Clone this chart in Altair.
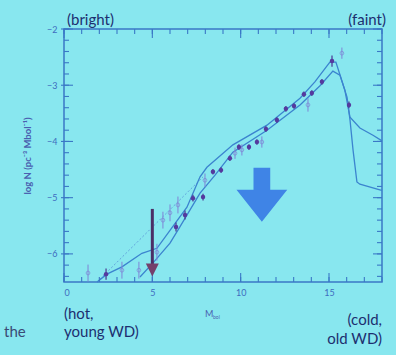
import altair as alt
import pandas as pd

# ---- data ----
# filled (dark) points
fill_x = [15.17, 16.13, 14.6, 14.03, 13.58, 13.02, 12.56, 12.05, 11.43, 10.92, 10.47, 9.9, 9.39, 8.89, 8.43, 7.87, 7.3, 6.85, 6.34, 2.38]
fill_y = [-2.57, -3.35, -2.94, -3.14, -3.16, -3.37, -3.42, -3.62, -3.78, -4.01, -4.1, -4.1, -4.3, -4.51, -4.54, -4.99, -5.01, -5.31, -5.52, -6.36]
fill_err = [0.1, 0.06, 0.05, 0.05, 0.05, 0.05, 0.05, 0.05, 0.05, 0.05, 0.05, 0.05, 0.05, 0.05, 0.05, 0.06, 0.06, 0.08, 0.08, 0.1]

# open (light) points
open_x = [15.73, 13.81, 11.2, 10.07, 9.68, 7.98, 6.45, 6.0, 5.6, 5.26, 4.24, 3.28, 1.36]
open_y = [-2.43, -3.35, -4.01, -4.15, -4.21, -4.69, -5.13, -5.27, -5.4, -5.97, -6.29, -6.29, -6.34]
open_err = [0.1, 0.12, 0.1, 0.1, 0.1, 0.12, 0.15, 0.15, 0.15, 0.15, 0.15, 0.15, 0.15]

# model curves
c1_x = [1.87, 2.43, 3.28, 4.41, 5.26, 6.0, 6.96, 7.7, 8.09, 9.56, 11.49, 13.36, 14.2, 15.05, 15.39, 15.9, 16.19, 16.75, 17.49, 18.0]
c1_y = [-6.5, -6.36, -6.23, -5.99, -5.9, -5.58, -5.17, -4.63, -4.46, -4.06, -3.71, -3.23, -2.94, -2.59, -2.59, -3.09, -3.57, -3.76, -3.89, -3.99]

c2_x = [4.3, 5.04, 6.0, 6.56, 7.7, 8.55, 9.56, 11.49, 13.36, 14.49, 15.22, 15.62, 16.02, 16.19, 16.36, 16.58, 16.75, 17.88, 18.0]
c2_y = [-6.41, -6.16, -5.81, -5.52, -4.92, -4.6, -4.19, -3.8, -3.35, -3.01, -2.75, -2.82, -3.21, -3.62, -4.15, -4.72, -4.76, -4.86, -4.87]

c3_x = [1.87, 7.87]
c3_y = [-6.5, -4.63]

# annotation arrows
big_arrow_x = [11.2]
big_arrow_y = [-4.95]
mark_arrow_x = [5]
mark_arrow_top = [-5.2]
mark_arrow_base = [-6.18]
mark_arrow_head = [-6.285]

# axis ticks
x_major = [0, 5, 10, 15]
x_minor = list(range(0, 19))
y_major = [-6, -5, -4, -3, -2]
y_minor = [-6.4, -6.2, -6.0, -5.8, -5.6, -5.4, -5.2, -5.0, -4.8, -4.6, -4.4, -4.2, -4.0,
           -3.8, -3.6, -3.4, -3.2, -3.0, -2.8, -2.6, -2.4, -2.2, -2.0]

W, H = 318, 253
BG = "#88e7ef"
AX = "#3a78c6"
CURVE = "#3b84cf"
LBL = "#3e6cc0"
TXT = "#1d2f6f"

xs = alt.Scale(domain=[0, 18], nice=False, zero=False)
ys = alt.Scale(domain=[-6.5, -2], nice=False, zero=False)

def line_df(xv, yv):
    return pd.DataFrame({"x": xv, "y": yv, "o": list(range(len(xv)))})

c1 = alt.Chart(line_df(c1_x, c1_y)).mark_line(color=CURVE, strokeWidth=1.3).encode(
    x=alt.X("x:Q", scale=xs, axis=alt.Axis(values=x_major, ticks=False, domain=False, grid=False,
                                           title=None, labelFontSize=9, labelColor=LBL, labelPadding=6,
                                           labelFont="Lato")),
    y=alt.Y("y:Q", scale=ys, axis=alt.Axis(values=y_major, format="d", ticks=False, domain=False, grid=False,
                                           title="log N (pc⁻³ Mbol⁻¹)", titleFontSize=9.5, titleColor="#4a5fb0",
                                           titleFont="Lato", titleFontWeight="bold", titlePadding=14,
                                           labelFontSize=9, labelColor=LBL, labelPadding=7, labelFont="Lato")),
    order="o:Q",
)
c2 = alt.Chart(line_df(c2_x, c2_y)).mark_line(color=CURVE, strokeWidth=1.3).encode(
    x=alt.X("x:Q", scale=xs), y=alt.Y("y:Q", scale=ys), order="o:Q")
c3 = alt.Chart(line_df(c3_x, c3_y)).mark_line(color="#5c9ad8", strokeWidth=0.9, strokeDash=[2, 2]).encode(
    x=alt.X("x:Q", scale=xs), y=alt.Y("y:Q", scale=ys), order="o:Q")

fdf = pd.DataFrame({"x": fill_x, "y": fill_y, "lo": [a - b for a, b in zip(fill_y, fill_err)],
                    "hi": [a + b for a, b in zip(fill_y, fill_err)]})
odf = pd.DataFrame({"x": open_x, "y": open_y, "lo": [a - b for a, b in zip(open_y, open_err)],
                    "hi": [a + b for a, b in zip(open_y, open_err)]})

oerr = alt.Chart(odf).mark_rule(color="#7f84d6", strokeWidth=1).encode(
    x=alt.X("x:Q", scale=xs), y=alt.Y("lo:Q", scale=ys), y2="hi:Q")
opts = alt.Chart(odf).mark_point(shape="circle", filled=False, color="#7f84d6", size=14, strokeWidth=1).encode(
    x=alt.X("x:Q", scale=xs), y=alt.Y("y:Q", scale=ys))
ferr = alt.Chart(fdf).mark_rule(color="#4a3590", strokeWidth=1.2).encode(
    x=alt.X("x:Q", scale=xs), y=alt.Y("lo:Q", scale=ys), y2="hi:Q")
fpts = alt.Chart(fdf).mark_point(shape="circle", filled=True, color="#553a9e", size=20, opacity=1).encode(
    x=alt.X("x:Q", scale=xs), y=alt.Y("y:Q", scale=ys))

# inward ticks drawn as short rules
def xticks(vals, a, b, w=1.1):
    return alt.Chart(pd.DataFrame({"v": vals})).mark_rule(color=AX, strokeWidth=w).encode(
        x=alt.X("v:Q", scale=xs), y=alt.value(a), y2=alt.value(b))

def yticks(vals, a, b, w=1.1):
    return alt.Chart(pd.DataFrame({"v": vals})).mark_rule(color=AX, strokeWidth=w).encode(
        y=alt.Y("v:Q", scale=ys), x=alt.value(a), x2=alt.value(b))

ticks = [
    xticks(x_minor, H, H - 5), xticks(x_major, H, H - 9),
    xticks(x_minor, 0, 5), xticks(x_major, 0, 9),
    yticks(y_minor, 0, 5), yticks(y_major, -3, 9),
    yticks(y_minor, W, W - 5), yticks(y_major, W, W - 9),
]

# arrows
big_arrow = alt.Chart(pd.DataFrame({"x": big_arrow_x, "y": big_arrow_y})).mark_point(
    shape="M -0.31 -1 L 0.31 -1 L 0.31 -0.19 L 0.94 -0.19 L 0 1 L -0.94 -0.19 L -0.31 -0.19 Z",
    filled=True, color="#3f84e6", size=2916, opacity=1).encode(
    x=alt.X("x:Q", scale=xs), y=alt.Y("y:Q", scale=ys))
shaft = alt.Chart(pd.DataFrame({"x": mark_arrow_x, "a": mark_arrow_top, "b": mark_arrow_base})).mark_rule(
    color="#4b2f66", strokeWidth=3).encode(x=alt.X("x:Q", scale=xs), y=alt.Y("a:Q", scale=ys), y2="b:Q")
head = alt.Chart(pd.DataFrame({"x": mark_arrow_x, "y": mark_arrow_head})).mark_point(
    shape="M -1 -1 L 1 -1 L 0 1 Z", filled=True, color="#74406c", size=169, opacity=1).encode(
    x=alt.X("x:Q", scale=xs), y=alt.Y("y:Q", scale=ys))

# text annotations
def txt(s, x, y, align="left", size=15, color=TXT):
    return alt.Chart(pd.DataFrame({"t": [s]})).mark_text(
        align=align, baseline="alphabetic", fontSize=size, font="Lato", color=color).encode(
        text="t:N", x=alt.value(x), y=alt.value(y))

texts = [
    txt("(bright)", 3, -4),
    txt("(faint)", 322, -4, align="right"),
    txt("(hot,", 0, 290),
    txt("young WD)", 0, 308),
    txt("the", -60, 308, color="#3b4a75"),
    txt("(cold,", 318, 296, align="right"),
    txt("old WD)", 318, 315, align="right"),
    txt("M", 141, 288, size=9, color="#4a5fb0"),
    txt("bol", 149, 290, size=5, color="#4a5fb0"),
]

chart = alt.layer(c3, c1, c2, oerr, opts, ferr, fpts, *ticks, big_arrow, shaft, head, *texts).properties(
    width=W, height=H, background=BG,
    padding={"left": 64, "top": 29, "right": 14, "bottom": 73},
    autosize=alt.AutoSizeParams(type="none"),
).configure_view(stroke=AX, strokeWidth=1.5)

chart.save("out.html", embed_options={"renderer": "svg", "actions": False})
